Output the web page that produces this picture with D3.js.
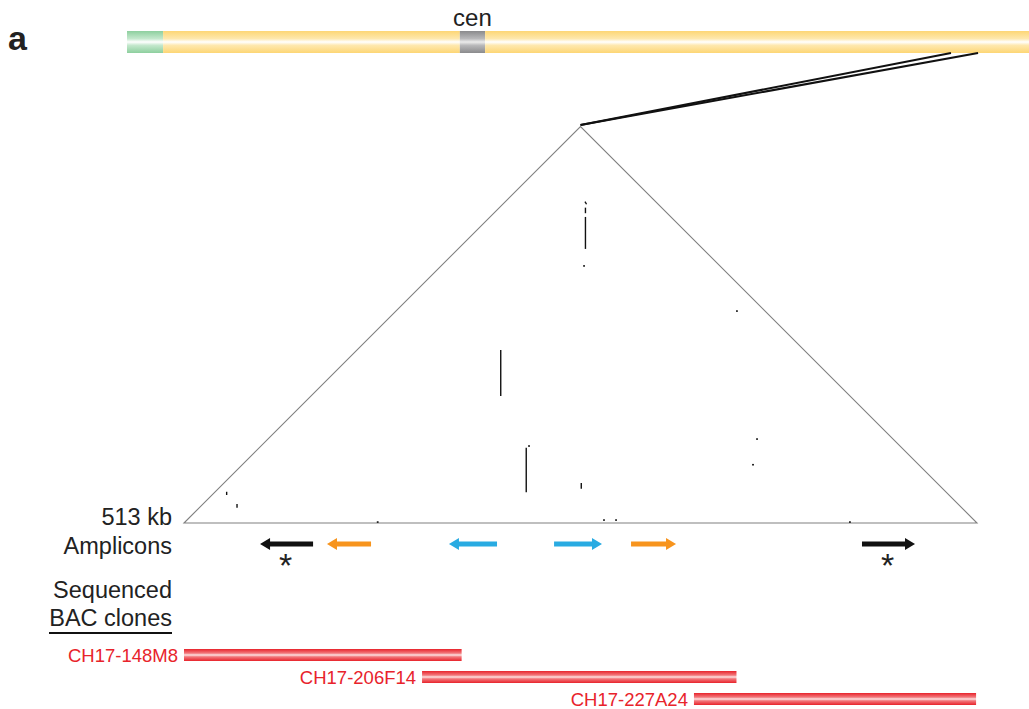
<!DOCTYPE html>
<html><head><meta charset="utf-8">
<script src="https://cdn.jsdelivr.net/npm/d3@7"></script>
<style>body{margin:0;background:#fff} svg{display:block}</style>
</head><body>
<svg id="fig" width="1029" height="709"></svg>
<script>
// ---- Chromosome ideogram (arbitrary units along the chromosome) ----
const chrBandStart = [0, 4, 36.9, 39.7];
const chrBandEnd   = [4, 36.9, 39.7, 102];
const chrBandKind  = ["tel", "arm", "cen", "arm"];
const zoomRegion   = [91.35, 94.35];

// ---- Region shown in the triangular self dot plot (kb) ----
const regionLength = 513;

// Amplicons (kb), orientation and colour group
const ampStart  = [49.2, 92.5, 171.4, 239.4, 289.2, 438.6];
const ampEnd    = [83.5, 121.0, 202.5, 270.4, 318.3, 472.9];
const ampStrand = [-1, -1, -1, 1, 1, 1];
const ampGroup  = ["black", "orange", "blue", "blue", "orange", "black"];
const ampStar   = [true, false, false, false, false, true];

// Sequenced BAC clones (kb)
const bacNames = ["CH17-148M8", "CH17-206F14", "CH17-227A24"];
const bacStart = [0, 154.0, 329.9];
const bacEnd   = [179.6, 357.4, 512.4];

// Self-alignment segments: [i1, j1, i2, j2] (kb)
const hitSegs = [
  [61.7, 457.7, 82.4, 437.0],
  [51.5, 467.3, 54.2, 466.6],
  [55.7, 463.7, 59.3, 460.1],
  [93.0, 316.8, 122.7, 287.1],
  [172.7, 270.1, 201.5, 241.3],
  [231.1, 282.9, 234.8, 279.2],
  [7.4, 47.8, 9.5, 45.7],
  [22.0, 46.6, 24.4, 44.2]
];
// Self-alignment single hits: [i, j] (kb)
const hitDots = [
  [92.5, 425.1], [173.4, 273.0], [220.6, 494.8], [316.4, 425.0],
  [330.4, 405.8], [269.8, 273.6], [277.6, 281.4], [430.2, 431.4], [124.7, 125.9]
];

const groupColor = { black: "#111111", orange: "#f7941d", blue: "#29abe2" };
const FONT = "'Liberation Sans', Arial, Helvetica, sans-serif";

const svg = d3.select("#fig");
const defs = svg.append("defs");

function stripeGradient(id, edge, mid, center) {
  const g = defs.append("linearGradient").attr("id", id)
    .attr("x1", 0).attr("y1", 0).attr("x2", 0).attr("y2", 1);
  g.append("stop").attr("offset", "0%").attr("stop-color", edge);
  g.append("stop").attr("offset", "35%").attr("stop-color", mid);
  g.append("stop").attr("offset", "50%").attr("stop-color", center);
  g.append("stop").attr("offset", "65%").attr("stop-color", mid);
  g.append("stop").attr("offset", "100%").attr("stop-color", edge);
}
stripeGradient("gArm", "#fdd675", "#fee8ae", "#ffffff");
stripeGradient("gTel", "#8dcf9e", "#c4e8cd", "#ffffff");
stripeGradient("gCen", "#8a8a8c", "#b9b9bb", "#ececec");
stripeGradient("gBac", "#e8232b", "#f2787c", "#fde3e3");
const bandFill = { arm: "url(#gArm)", tel: "url(#gTel)", cen: "url(#gCen)" };

// ---- scales ----
const chrX = d3.scaleLinear().domain([0, 100]).range([127, 1029]);
const chrTop = 31, chrH = 22;

const x = d3.scaleLinear().domain([0, regionLength]).range([184, 977]);
const baseY = 523;
const halfSpan = (x(regionLength) - x(0)) / 2;
// vertical position from separation (j - i) at 45 degrees
const sep = d3.scaleLinear().domain([0, regionLength]).range([baseY, baseY - halfSpan]);
const pt = (i, j) => [x((i + j) / 2), sep(j - i)];

// ---- panel letter ----
svg.append("text").attr("x", 8).attr("y", 50)
  .attr("font-family", FONT).attr("font-weight", "bold").attr("font-size", 34)
  .attr("fill", "#222").text("a");

// ---- chromosome ----
svg.append("g").selectAll("rect").data(chrBandStart).join("rect")
  .attr("x", (d, k) => chrX(d))
  .attr("width", (d, k) => chrX(chrBandEnd[k]) - chrX(d))
  .attr("y", chrTop).attr("height", chrH)
  .attr("fill", (d, k) => bandFill[chrBandKind[k]]);

const cenIdx = chrBandKind.indexOf("cen");
svg.append("text")
  .attr("x", chrX((chrBandStart[cenIdx] + chrBandEnd[cenIdx]) / 2)).attr("y", 26)
  .attr("text-anchor", "middle").attr("font-family", FONT).attr("font-size", 24)
  .attr("fill", "#222").text("cen");

// ---- connector lines from region on chromosome to plot apex ----
const apex = pt(0, regionLength);
svg.append("g").selectAll("line").data(zoomRegion).join("line")
  .attr("x1", apex[0]).attr("y1", apex[1] - 1.5)
  .attr("x2", d => chrX(d)).attr("y2", chrTop + chrH)
  .attr("stroke", "#111").attr("stroke-width", 2.1);

// ---- triangle outline ----
const tri = [pt(0, 0), apex, pt(regionLength, regionLength)];
svg.append("path")
  .attr("d", d3.line()(tri) + "Z")
  .attr("fill", "none").attr("stroke", "#808080").attr("stroke-width", 1.1);

// ---- self-alignment hits ----
svg.append("g").selectAll("line").data(hitSegs).join("line")
  .attr("x1", d => pt(d[0], d[1])[0]).attr("y1", d => pt(d[0], d[1])[1])
  .attr("x2", d => pt(d[2], d[3])[0]).attr("y2", d => pt(d[2], d[3])[1])
  .attr("stroke", "#111").attr("stroke-width", 1.4);
svg.append("g").selectAll("rect").data(hitDots).join("rect")
  .attr("x", d => pt(d[0], d[1])[0] - 0.9).attr("y", d => pt(d[0], d[1])[1] - 0.8)
  .attr("width", 1.8).attr("height", 1.6).attr("fill", "#111");

// ---- left-hand labels ----
const labels = [
  { t: "513 kb", y: 525 },
  { t: "Amplicons", y: 554 },
  { t: "Sequenced", y: 598 },
  { t: "BAC clones", y: 626 }
];
svg.append("g").selectAll("text").data(labels).join("text")
  .attr("x", 172).attr("y", d => d.y).attr("text-anchor", "end")
  .attr("font-family", FONT).attr("font-size", 23.5).attr("fill", "#222")
  .text(d => d.t);
svg.append("line").attr("x1", 49).attr("x2", 172).attr("y1", 633).attr("y2", 633)
  .attr("stroke", "#111").attr("stroke-width", 2.2);

// ---- amplicon arrows ----
const arrowY = 544, shaft = 2.6, headLen = 10, headHalf = 6;
function arrowPath(k) {
  const a = x(ampStart[k]), b = x(ampEnd[k]);
  if (ampStrand[k] > 0) {
    return `M${a},${arrowY - shaft}L${b - headLen},${arrowY - shaft}L${b - headLen},${arrowY - headHalf}` +
      `L${b},${arrowY}L${b - headLen},${arrowY + headHalf}L${b - headLen},${arrowY + shaft}L${a},${arrowY + shaft}Z`;
  }
  return `M${b},${arrowY - shaft}L${a + headLen},${arrowY - shaft}L${a + headLen},${arrowY - headHalf}` +
    `L${a},${arrowY}L${a + headLen},${arrowY + headHalf}L${a + headLen},${arrowY + shaft}L${b},${arrowY + shaft}Z`;
}
svg.append("g").selectAll("path").data(ampStart).join("path")
  .attr("d", (d, k) => arrowPath(k))
  .attr("fill", (d, k) => groupColor[ampGroup[k]]);

svg.append("g").selectAll("text").data(ampStart.map((d, k) => k).filter(k => ampStar[k])).join("text")
  .attr("x", k => x((ampStart[k] + ampEnd[k]) / 2) - 1)
  .attr("y", 577).attr("text-anchor", "middle")
  .attr("font-family", FONT).attr("font-size", 34).attr("fill", "#222").text("*");

// ---- BAC clones ----
const bacTop = 649, bacH = 12, bacStep = 22;
svg.append("g").selectAll("rect").data(bacNames).join("rect")
  .attr("x", (d, k) => x(bacStart[k]))
  .attr("width", (d, k) => x(bacEnd[k]) - x(bacStart[k]))
  .attr("y", (d, k) => bacTop + k * bacStep).attr("height", bacH)
  .attr("fill", "url(#gBac)");
svg.append("g").selectAll("text").data(bacNames).join("text")
  .attr("x", (d, k) => x(bacStart[k]) - 6)
  .attr("y", (d, k) => bacTop + k * bacStep + bacH / 2 + 6.5)
  .attr("text-anchor", "end").attr("font-family", FONT).attr("font-size", 18.5)
  .attr("fill", "#e8232b").text(d => d);
</script>
</body></html>
